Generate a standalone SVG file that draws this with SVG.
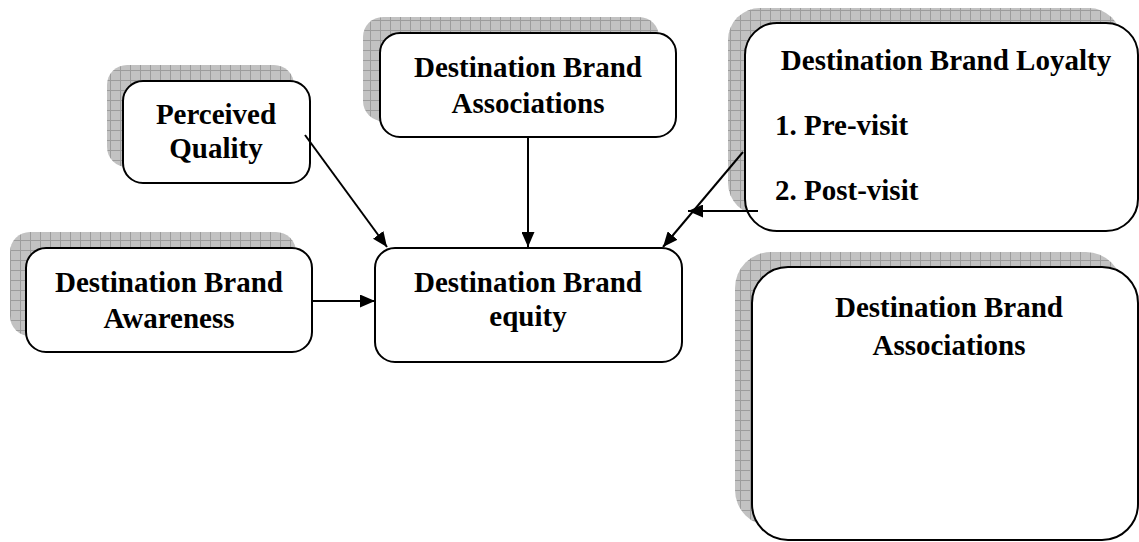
<svg xmlns="http://www.w3.org/2000/svg" width="1139" height="542" viewBox="0 0 1139 542">
<style>
.box{fill:#fff;stroke:#000;stroke-width:2}
.shadow{fill:url(#grid);stroke:none}
.t{font-family:"Liberation Serif","Times New Roman",serif;font-weight:bold;font-size:29px;fill:#000}
.c{text-anchor:middle}
.ln{stroke:#000;stroke-width:2;fill:none;marker-end:url(#arr)}
</style>
<defs>
<pattern id="grid" width="10" height="10" patternUnits="userSpaceOnUse">
<rect width="10" height="10" fill="#c2c2c2"/>
<path d="M0 0.5H10M0.5 0V10" stroke="#9c9c9c" stroke-width="1"/>
</pattern>
<marker id="arr" viewBox="0 0 15 13" refX="15" refY="6.5" markerWidth="15" markerHeight="13" markerUnits="userSpaceOnUse" orient="auto">
<path d="M0 0L15 6.5L0 13Z" fill="#000"/>
</marker>
</defs>
<rect width="1139" height="542" fill="#fff"/>

<g id="perceived-quality">
<rect class="shadow" x="107" y="65" width="187" height="102" rx="20"/>
<rect class="box" x="123" y="81" width="187" height="102" rx="20"/>
<text class="t c" x="216" y="124">Perceived</text>
<text class="t c" x="216" y="158">Quality</text>
</g>

<g id="brand-associations-top">
<rect class="shadow" x="363" y="17" width="296" height="104" rx="20"/>
<rect class="box" x="380" y="33" width="296" height="104" rx="20"/>
<text class="t c" x="528" y="77">Destination Brand</text>
<text class="t c" x="528" y="113">Associations</text>
</g>

<g id="brand-loyalty">
<rect class="shadow" x="728" y="8" width="393" height="207" rx="32"/>
<rect class="box" x="745" y="23" width="393" height="208" rx="32"/>
<text class="t c" x="946" y="70">Destination Brand Loyalty</text>
<text class="t" x="775" y="135">1. Pre-visit</text>
<text class="t" x="775" y="200">2. Post-visit</text>
</g>

<g id="brand-awareness">
<rect class="shadow" x="10" y="232" width="286" height="104" rx="20"/>
<rect class="box" x="26" y="248" width="286" height="104" rx="20"/>
<text class="t c" x="169" y="292">Destination Brand</text>
<text class="t c" x="169" y="328">Awareness</text>
</g>

<g id="brand-equity">
<rect class="box" x="375" y="248" width="307" height="114" rx="20"/>
<text class="t c" x="528" y="292">Destination Brand</text>
<text class="t c" x="528" y="326">equity</text>
</g>

<g id="brand-associations-right">
<rect class="shadow" x="735" y="252" width="387" height="274" rx="36"/>
<rect class="box" x="752" y="267" width="386" height="273" rx="36"/>
<text class="t c" x="949" y="317">Destination Brand</text>
<text class="t c" x="949" y="355">Associations</text>
</g>

<g id="connectors">
<line class="ln" x1="305" y1="135" x2="387" y2="247"/>
<line class="ln" x1="528" y1="137" x2="528" y2="247"/>
<line class="ln" x1="743" y1="152" x2="663" y2="247"/>
<line class="ln" x1="758" y1="211" x2="688" y2="211"/>
<line class="ln" x1="312" y1="301" x2="375" y2="301"/>
</g>
</svg>
